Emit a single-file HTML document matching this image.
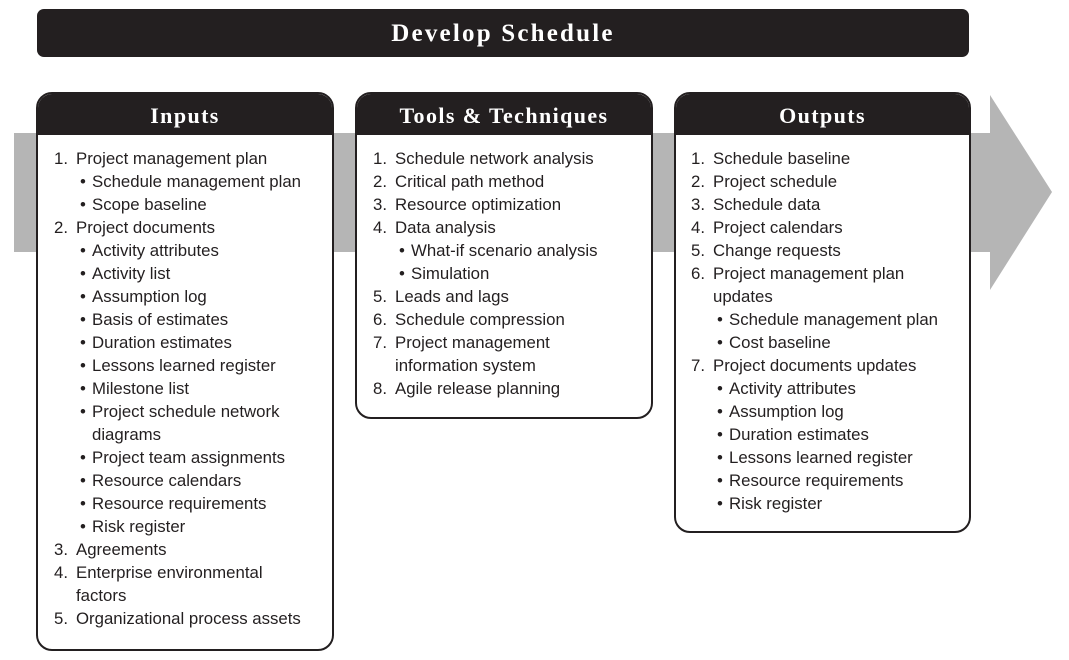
<!DOCTYPE html>
<html><head><meta charset="utf-8"><style>
body{margin:0;width:1069px;height:660px;background:#fff;position:relative;overflow:hidden;font-family:"Liberation Sans",sans-serif;color:#231f20}
.title{position:absolute;left:37px;top:9px;width:932px;height:48px;background:#231f20;border-radius:7px;color:#fff;font:bold 25px "Liberation Serif",serif;text-align:center;line-height:50px;letter-spacing:2.2px}
.box{position:absolute;border:2px solid #231f20;border-radius:16px;background:#fff;overflow:hidden;box-sizing:border-box}
.hd{height:41px;background:#231f20;color:#fff;font:bold 22px "Liberation Serif",serif;text-align:center;line-height:44px;letter-spacing:1.4px}
.l{position:absolute;font-size:16.8px;line-height:22px;white-space:nowrap}
</style></head><body>
<div class="title">Develop Schedule</div>
<svg style="position:absolute;left:0;top:0" width="1069" height="660">
<polygon points="14,133 990,133 990,95 1052,192 990,290 990,252 14,252" fill="#b5b5b5"/>
</svg>
<div class="box" style="left:36px;top:92px;width:298px;height:559px"><div class="hd">Inputs</div></div>
<div class="box" style="left:355px;top:92px;width:298px;height:327px"><div class="hd">Tools &amp; Techniques</div></div>
<div class="box" style="left:674px;top:92px;width:297px;height:441px"><div class="hd">Outputs</div></div>
<div id="c"></div>
<script>
function col(x,items){let y=159,h='';for(const it of items){let [k,t]=it;let nx,tx;
if(k==='n'){nx=x;tx=x+22;}else if(k==='b'){nx=x+26;tx=x+38;}else if(k==='c'){tx=x+22;nx=null}else{tx=x+38;nx=null}
let num=k==='n'?it[2]+'.':(k==='b'?'•':'');
if(nx!==null)h+=`<div class="l" style="left:${nx}px;top:${y-11}px">${num}</div>`;
h+=`<div class="l" style="left:${tx}px;top:${y-11}px">${t}</div>`;y+=23;}return h;}
document.getElementById('c').innerHTML=
col(54,[['n','Project management plan',1],['b','Schedule management plan'],['b','Scope baseline'],['n','Project documents',2],['b','Activity attributes'],['b','Activity list'],['b','Assumption log'],['b','Basis of estimates'],['b','Duration estimates'],['b','Lessons learned register'],['b','Milestone list'],['b','Project schedule network'],['d','diagrams'],['b','Project team assignments'],['b','Resource calendars'],['b','Resource requirements'],['b','Risk register'],['n','Agreements',3],['n','Enterprise environmental',4],['c','factors'],['n','Organizational process assets',5]])+
col(373,[['n','Schedule network analysis',1],['n','Critical path method',2],['n','Resource optimization',3],['n','Data analysis',4],['b','What-if scenario analysis'],['b','Simulation'],['n','Leads and lags',5],['n','Schedule compression',6],['n','Project management',7],['c','information system'],['n','Agile release planning',8]])+
col(691,[['n','Schedule baseline',1],['n','Project schedule',2],['n','Schedule data',3],['n','Project calendars',4],['n','Change requests',5],['n','Project management plan',6],['c','updates'],['b','Schedule management plan'],['b','Cost baseline'],['n','Project documents updates',7],['b','Activity attributes'],['b','Assumption log'],['b','Duration estimates'],['b','Lessons learned register'],['b','Resource requirements'],['b','Risk register']]);
</script>
</body></html>
